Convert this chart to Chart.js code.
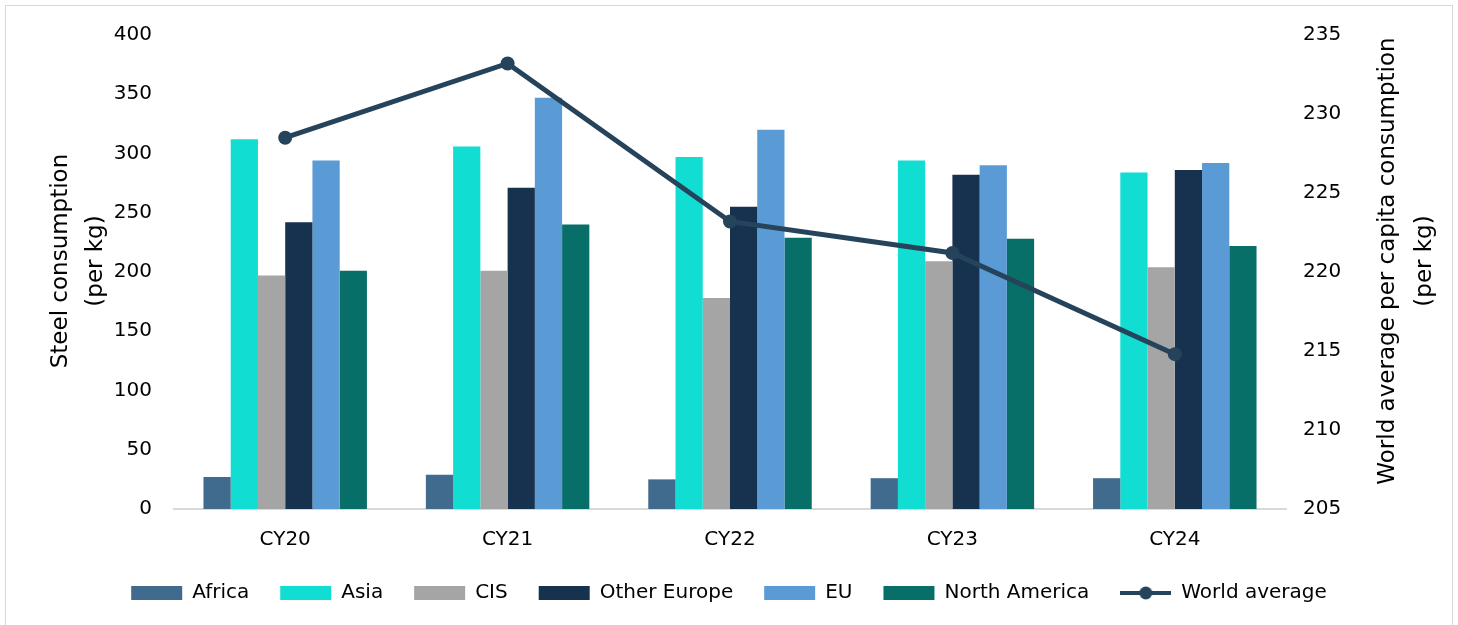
<!DOCTYPE html>
<html>
<head>
<meta charset="utf-8">
<script src="https://cdn.jsdelivr.net/npm/chart.js@4/dist/chart.umd.min.js"></script>
<style>
    html, body { margin: 0; padding: 0; background: #fff; overflow: hidden; }
    #wrap { position: relative; width: 1458px; height: 625px; }
    #frame {
        position: absolute; left: 5px; top: 5px; width: 1446px; height: 640px;
        border: 1px solid #d9d9d9; pointer-events: none;
    }
</style>
</head>
<body>
<div id="wrap">
    <canvas id="steelChart"></canvas>
    <div id="frame"></div>
</div>
<script>
// 年度
const years = ['CY20', 'CY21', 'CY22', 'CY23', 'CY24'];

// 各地區人均鋼材消費量 (kg)
const africa = [27, 29, 25, 26, 26];
const asia = [312, 306, 297, 294, 284];
const cis = [197, 201, 178, 209, 204];
const otherEurope = [242, 271, 255, 282, 286];
const eu = [294, 347, 320, 290, 292];
const northAmerica = [201, 240, 229, 228, 222];

// 全球平均 (右軸)
const worldAverage = [228.5, 233.2, 223.2, 221.2, 214.8];

// 軸標題
const leftTitle = ['Steel consumption', '(per kg)'];
const rightTitle = ['World average per capita consumption', '(per kg)'];

const FONT = 'DejaVu Sans';
const LINE_COLOR = '#26435C';

Chart.defaults.font.family = FONT;
Chart.defaults.color = '#000';

// 圖例用：線加圓點
function makeLineMarker() {
    const c = document.createElement('canvas');
    c.width = 51;
    c.height = 16;
    const g = c.getContext('2d');
    g.strokeStyle = LINE_COLOR;
    g.fillStyle = LINE_COLOR;
    g.lineWidth = 4;
    g.beginPath();
    g.moveTo(0, 8);
    g.lineTo(51, 8);
    g.stroke();
    g.beginPath();
    g.arc(25.5, 8, 6.5, 0, Math.PI * 2);
    g.fill();
    return c;
}
const lineMarker = makeLineMarker();

// 兩側的直向軸標題
const axisTitles = {
    id: 'axisTitles',
    afterDraw(chart) {
        const ctx = chart.ctx;
        const area = chart.chartArea;
        const midY = (area.top + area.bottom) / 2 - 11;
        ctx.save();
        ctx.font = '23px "' + FONT + '"';
        ctx.fillStyle = '#000';
        ctx.textAlign = 'center';
        ctx.textBaseline = 'middle';
        const draw = (lines, xs) => {
            lines.forEach((t, i) => {
                ctx.save();
                ctx.translate(xs[i], midY);
                ctx.rotate(-Math.PI / 2);
                ctx.fillText(t, 0, 0);
                ctx.restore();
            });
        };
        draw(leftTitle, [area.left - 113, area.left - 78]);
        draw(rightTitle, [area.right + 102, area.right + 139]);
        ctx.restore();
    }
};

function barSet(label, data, color) {
    return {
        type: 'bar',
        label: label,
        data: data,
        backgroundColor: color,
        borderWidth: 0,
        yAxisID: 'y',
        barPercentage: 1,
        categoryPercentage: 0.735
    };
}

const ctx = document.getElementById('steelChart');

new Chart(ctx, {
    data: {
        labels: years,
        datasets: [
            barSet('Africa', africa, '#416B8E'),
            barSet('Asia', asia, '#12DDD3'),
            barSet('CIS', cis, '#A5A5A5'),
            barSet('Other Europe', otherEurope, '#16324F'),
            barSet('EU', eu, '#5B9BD5'),
            barSet('North America', northAmerica, '#086E68'),
            {
                type: 'line',
                label: 'World average',
                data: worldAverage,
                yAxisID: 'y1',
                borderColor: LINE_COLOR,
                backgroundColor: LINE_COLOR,
                borderWidth: 5,
                pointRadius: 7,
                pointHoverRadius: 7,
                pointBackgroundColor: LINE_COLOR,
                pointBorderWidth: 0,
                tension: 0,
                order: -1
            }
        ]
    },
    options: {
        responsive: true,
        maintainAspectRatio: false,
        animation: false,
        layout: {
            padding: { top: 35, left: 0, right: 0, bottom: 12 }
        },
        plugins: {
            tooltip: { enabled: false },
            legend: {
                position: 'bottom',
                labels: {
                    font: { size: 20 },
                    color: '#000',
                    usePointStyle: true,
                    pointStyleWidth: 51,
                    boxWidth: 51,
                    boxHeight: 14,
                    padding: 31,
                    sort: (a, b) => a.datasetIndex - b.datasetIndex,
                    generateLabels: function(chart) {
                        const items = Chart.defaults.plugins.legend.labels.generateLabels(chart);
                        items.forEach(item => {
                            if (item.datasetIndex === 6) {
                                item.pointStyle = lineMarker;
                            } else {
                                item.pointStyle = 'rect';
                            }
                            item.lineWidth = 0;
                            item.strokeStyle = 'rgba(0,0,0,0)';
                        });
                        return items;
                    }
                }
            }
        },
        scales: {
            x: {
                grid: { display: false, drawTicks: false },
                border: { display: true, color: '#d9d9d9', width: 2 },
                ticks: { font: { size: 20 }, color: '#000', padding: 19 },
                afterFit: function(scale) { scale.height = 43; }
            },
            y: {
                position: 'left',
                min: 0,
                max: 400,
                grid: { display: false, drawTicks: false },
                border: { display: false },
                ticks: { stepSize: 50, font: { size: 20 }, color: '#000', padding: 22 },
                afterFit: function(scale) { scale.width = 174; }
            },
            y1: {
                position: 'right',
                min: 205,
                max: 235,
                grid: { display: false, drawTicks: false },
                border: { display: false },
                ticks: { stepSize: 5, font: { size: 20 }, color: '#000', padding: 17 },
                afterFit: function(scale) { scale.width = 172; }
            }
        }
    },
    plugins: [axisTitles]
});
</script>
</body>
</html>
